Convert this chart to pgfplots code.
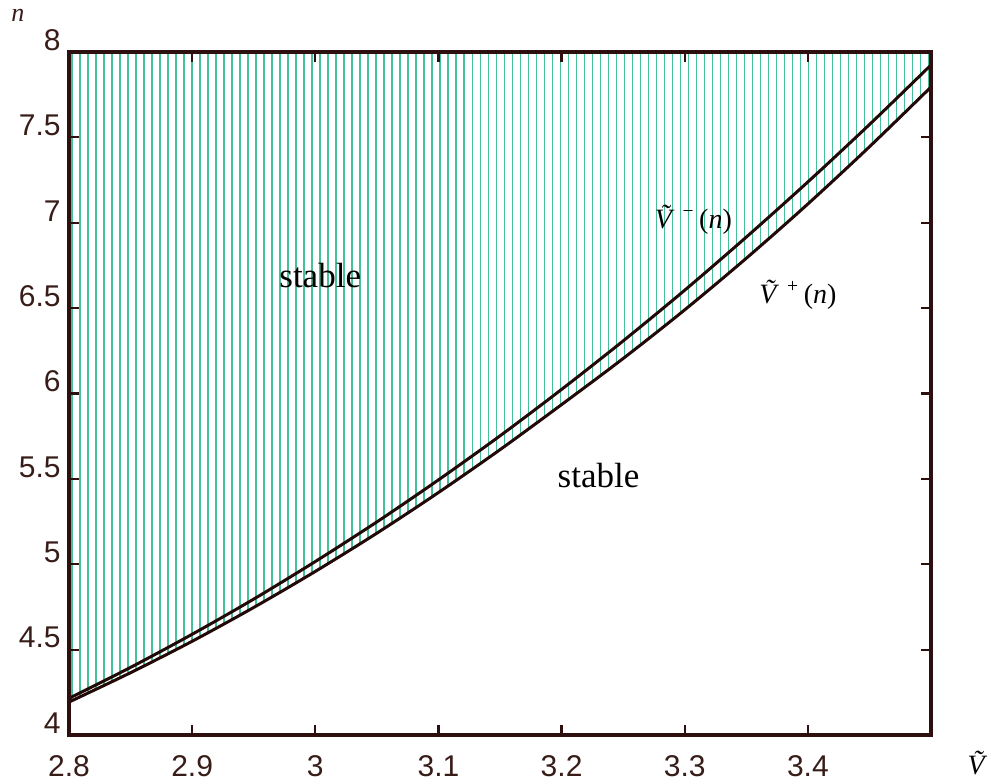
\documentclass[border=0pt]{standalone}
\usepackage{fontspec}
\setmainfont{Liberation Serif}
\setsansfont{Liberation Sans}
\usepackage{pgfplots}
\pgfplotsset{compat=1.18}
\usepgfplotslibrary{fillbetween}

\definecolor{axiscol}{RGB}{45,15,15}
\definecolor{curvecol}{RGB}{35,8,8}
\definecolor{hatchcol}{RGB}{70,192,152}
\definecolor{labcol}{RGB}{55,28,24}

\begin{document}
\begin{tikzpicture}
\begin{axis}[
  set layers,
  scale only axis,
  width=431pt, height=341.5pt,
  xmin=2.8, xmax=3.5, ymin=4, ymax=8,
  xtick={2.8,2.9,3.0,3.1,3.2,3.3,3.4},
  ytick={4,4.5,5,5.5,6,6.5,7,7.5,8},
  tick align=inside,
  major tick length=5pt,
  axis line style={axiscol, line width=1.8pt},
  every tick/.style={axiscol, line width=1.1pt},
  axis on top,
  /pgf/number format/assume math mode=true,
  tick label style={font=\sffamily\fontsize{15}{17}\selectfont, text=labcol, inner sep=0pt},
  yticklabel style={xshift=-4pt, yshift=6pt},
  xticklabel style={yshift=-10pt},
  clip=true,
]
  % vertical hatching over the whole plot area, kept on the bottom layer
  \begin{pgfonlayer}{axis background}
  \pgfplotsinvokeforeach{0,...,107}{
    \draw[hatchcol, line width=0.8pt]
      (axis cs:{2.8025+#1*0.0065},4) -- (axis cs:{2.8025+#1*0.0065},8);
  }
  \end{pgfonlayer}
  % lower branch V+(n)
  \addplot[name path=lower, draw=none, smooth] coordinates {
    (2.80,4.193) (2.85,4.365) (2.90,4.549) (2.95,4.747) (3.00,4.958)
    (3.05,5.182) (3.10,5.420) (3.15,5.671) (3.20,5.935) (3.25,6.205)
    (3.30,6.490) (3.35,6.792) (3.40,7.110) (3.45,7.445) (3.50,7.795)
  };
  \addplot[name path=bottom, draw=none] coordinates {(2.8,4) (3.5,4)};
  % blank out the hatching below the lower branch
  \addplot[fill=white, draw=none] fill between[of=lower and bottom];

  \addplot[curvecol, line width=1.5pt, smooth] coordinates {
    (2.80,4.193) (2.85,4.365) (2.90,4.549) (2.95,4.747) (3.00,4.958)
    (3.05,5.182) (3.10,5.420) (3.15,5.671) (3.20,5.935) (3.25,6.205)
    (3.30,6.490) (3.35,6.792) (3.40,7.110) (3.45,7.445) (3.50,7.795)
  };
  % upper branch V-(n)
  \addplot[curvecol, line width=1.5pt, smooth] coordinates {
    (2.80,4.215) (2.85,4.396) (2.90,4.590) (2.95,4.796) (3.00,5.016)
    (3.05,5.248) (3.10,5.494) (3.15,5.752) (3.20,6.024) (3.25,6.308)
    (3.30,6.605) (3.35,6.916) (3.40,7.239) (3.45,7.575) (3.50,7.924)
  };

  \node[font=\fontsize{17.5}{20}\selectfont] at (axis cs:3.004,6.69) {stable};
  \node[font=\fontsize{17.5}{20}\selectfont] at (axis cs:3.23,5.52) {stable};
  \node[font=\fontsize{14}{16}\selectfont] at (axis cs:3.307,7.02)
    {\textit{\~{V}}\,\textsuperscript{\,−}\,(\textit{n})};
  \node[font=\fontsize{14}{16}\selectfont] at (axis cs:3.392,6.58)
    {\textit{\~{V}}\,\textsuperscript{\,+}\,(\textit{n})};
\end{axis}
\node[font=\fontsize{13}{15}\selectfont\itshape, text=labcol]
  at ([xshift=-25.5pt, yshift=18.5pt]current axis.north west) {n};
\node[font=\fontsize{14}{16}\selectfont\itshape, anchor=east, inner sep=0pt]
  at ([xshift=27pt, yshift=-14pt]current axis.south east) {\~{V}};
\pgfresetboundingbox
\path ([xshift=-34.5pt, yshift=-23pt]current axis.south west)
  rectangle ([xshift=30pt, yshift=26pt]current axis.north east);
\end{tikzpicture}
\end{document}
